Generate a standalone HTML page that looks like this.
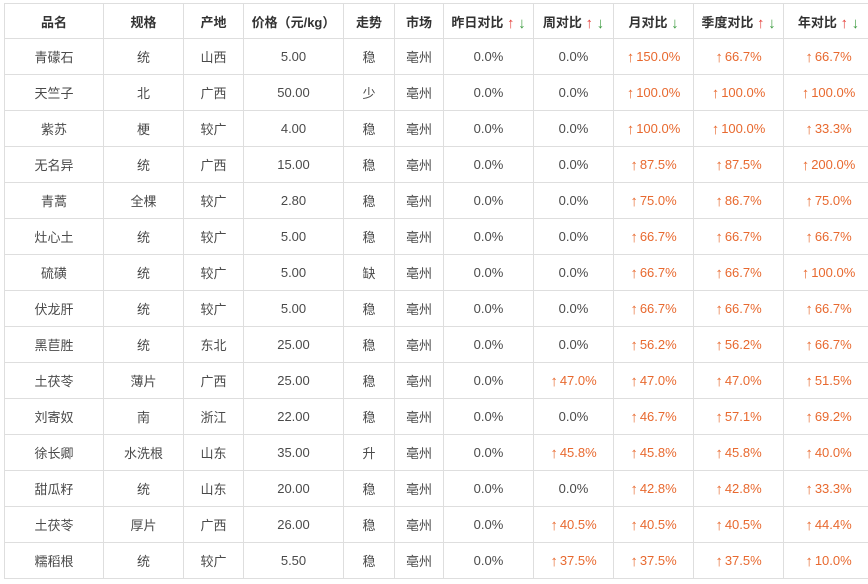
<!DOCTYPE html>
<html>
<head>
<meta charset="utf-8">
<style>
html,body{margin:0;padding:0;background:#fff;width:868px;height:584px;overflow:hidden;}
table{position:absolute;left:4px;top:3px;border-collapse:collapse;table-layout:fixed;width:869px;
font-family:"Liberation Sans","Noto Sans CJK SC",sans-serif;font-size:13px;color:#4a4a4a;}
td,th{border:1px solid #dedede;text-align:center;vertical-align:middle;padding:0;white-space:nowrap;}
th{font-weight:bold;color:#333;height:34px;}
td{height:35px;}
.u{color:#e8692f;}
.a{font-family:"Liberation Sans",sans-serif;font-size:15px;line-height:0;margin-right:2px;position:relative;top:1px;}
.r{color:#e5413b;font-size:15px;line-height:0;position:relative;top:1px;}
.g{color:#3a9a3e;font-size:15px;line-height:0;position:relative;top:1px;}
</style>
</head>
<body>
<table>
<colgroup>
<col style="width:99px"><col style="width:80px"><col style="width:60px"><col style="width:100px"><col style="width:51px"><col style="width:49px"><col style="width:90px"><col style="width:80px"><col style="width:80px"><col style="width:90px"><col style="width:90px">
</colgroup>
<tr><th>品名</th><th>规格</th><th>产地</th><th>价格（元/kg）</th><th>走势</th><th>市场</th><th>昨日对比 <span class="r">↑</span> <span class="g">↓</span></th><th>周对比 <span class="r">↑</span> <span class="g">↓</span></th><th>月对比 <span class="g">↓</span></th><th>季度对比 <span class="r">↑</span> <span class="g">↓</span></th><th>年对比 <span class="r">↑</span> <span class="g">↓</span></th></tr>
<tr><td>青礞石</td><td>统</td><td>山西</td><td>5.00</td><td>稳</td><td>亳州</td><td>0.0%</td><td>0.0%</td><td class="u"><span class="a">↑</span>150.0%</td><td class="u"><span class="a">↑</span>66.7%</td><td class="u"><span class="a">↑</span>66.7%</td></tr>
<tr><td>天竺子</td><td>北</td><td>广西</td><td>50.00</td><td>少</td><td>亳州</td><td>0.0%</td><td>0.0%</td><td class="u"><span class="a">↑</span>100.0%</td><td class="u"><span class="a">↑</span>100.0%</td><td class="u"><span class="a">↑</span>100.0%</td></tr>
<tr><td>紫苏</td><td>梗</td><td>较广</td><td>4.00</td><td>稳</td><td>亳州</td><td>0.0%</td><td>0.0%</td><td class="u"><span class="a">↑</span>100.0%</td><td class="u"><span class="a">↑</span>100.0%</td><td class="u"><span class="a">↑</span>33.3%</td></tr>
<tr><td>无名异</td><td>统</td><td>广西</td><td>15.00</td><td>稳</td><td>亳州</td><td>0.0%</td><td>0.0%</td><td class="u"><span class="a">↑</span>87.5%</td><td class="u"><span class="a">↑</span>87.5%</td><td class="u"><span class="a">↑</span>200.0%</td></tr>
<tr><td>青蒿</td><td>全棵</td><td>较广</td><td>2.80</td><td>稳</td><td>亳州</td><td>0.0%</td><td>0.0%</td><td class="u"><span class="a">↑</span>75.0%</td><td class="u"><span class="a">↑</span>86.7%</td><td class="u"><span class="a">↑</span>75.0%</td></tr>
<tr><td>灶心土</td><td>统</td><td>较广</td><td>5.00</td><td>稳</td><td>亳州</td><td>0.0%</td><td>0.0%</td><td class="u"><span class="a">↑</span>66.7%</td><td class="u"><span class="a">↑</span>66.7%</td><td class="u"><span class="a">↑</span>66.7%</td></tr>
<tr><td>硫磺</td><td>统</td><td>较广</td><td>5.00</td><td>缺</td><td>亳州</td><td>0.0%</td><td>0.0%</td><td class="u"><span class="a">↑</span>66.7%</td><td class="u"><span class="a">↑</span>66.7%</td><td class="u"><span class="a">↑</span>100.0%</td></tr>
<tr><td>伏龙肝</td><td>统</td><td>较广</td><td>5.00</td><td>稳</td><td>亳州</td><td>0.0%</td><td>0.0%</td><td class="u"><span class="a">↑</span>66.7%</td><td class="u"><span class="a">↑</span>66.7%</td><td class="u"><span class="a">↑</span>66.7%</td></tr>
<tr><td>黑苣胜</td><td>统</td><td>东北</td><td>25.00</td><td>稳</td><td>亳州</td><td>0.0%</td><td>0.0%</td><td class="u"><span class="a">↑</span>56.2%</td><td class="u"><span class="a">↑</span>56.2%</td><td class="u"><span class="a">↑</span>66.7%</td></tr>
<tr><td>土茯苓</td><td>薄片</td><td>广西</td><td>25.00</td><td>稳</td><td>亳州</td><td>0.0%</td><td class="u"><span class="a">↑</span>47.0%</td><td class="u"><span class="a">↑</span>47.0%</td><td class="u"><span class="a">↑</span>47.0%</td><td class="u"><span class="a">↑</span>51.5%</td></tr>
<tr><td>刘寄奴</td><td>南</td><td>浙江</td><td>22.00</td><td>稳</td><td>亳州</td><td>0.0%</td><td>0.0%</td><td class="u"><span class="a">↑</span>46.7%</td><td class="u"><span class="a">↑</span>57.1%</td><td class="u"><span class="a">↑</span>69.2%</td></tr>
<tr><td>徐长卿</td><td>水洗根</td><td>山东</td><td>35.00</td><td>升</td><td>亳州</td><td>0.0%</td><td class="u"><span class="a">↑</span>45.8%</td><td class="u"><span class="a">↑</span>45.8%</td><td class="u"><span class="a">↑</span>45.8%</td><td class="u"><span class="a">↑</span>40.0%</td></tr>
<tr><td>甜瓜籽</td><td>统</td><td>山东</td><td>20.00</td><td>稳</td><td>亳州</td><td>0.0%</td><td>0.0%</td><td class="u"><span class="a">↑</span>42.8%</td><td class="u"><span class="a">↑</span>42.8%</td><td class="u"><span class="a">↑</span>33.3%</td></tr>
<tr><td>土茯苓</td><td>厚片</td><td>广西</td><td>26.00</td><td>稳</td><td>亳州</td><td>0.0%</td><td class="u"><span class="a">↑</span>40.5%</td><td class="u"><span class="a">↑</span>40.5%</td><td class="u"><span class="a">↑</span>40.5%</td><td class="u"><span class="a">↑</span>44.4%</td></tr>
<tr><td>糯稻根</td><td>统</td><td>较广</td><td>5.50</td><td>稳</td><td>亳州</td><td>0.0%</td><td class="u"><span class="a">↑</span>37.5%</td><td class="u"><span class="a">↑</span>37.5%</td><td class="u"><span class="a">↑</span>37.5%</td><td class="u"><span class="a">↑</span>10.0%</td></tr>
</table>
</body>
</html>
